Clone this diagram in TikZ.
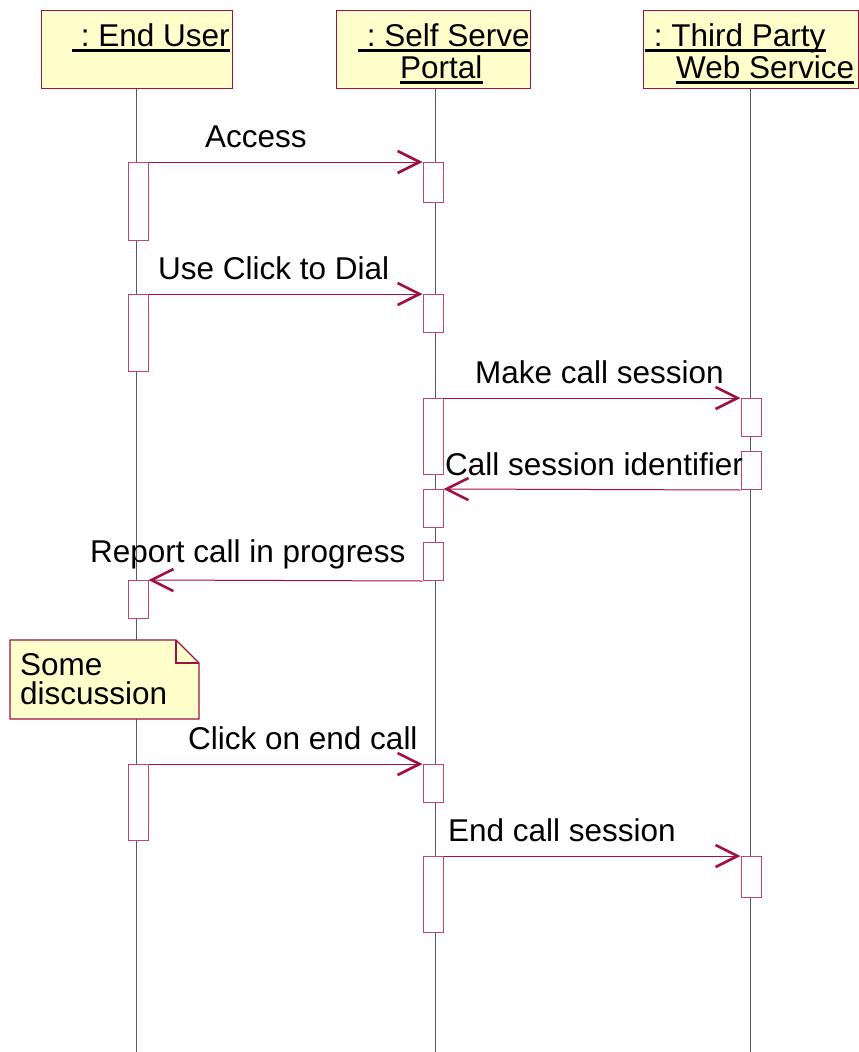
\documentclass[tikz,border=0pt]{standalone}
\usepackage{fontspec}
\setmainfont{Liberation Sans}
\usepackage[usenames]{xcolor}
\usepackage{tikz}
\usetikzlibrary{arrows.meta,positioning}
\frenchspacing

\definecolor{umlred}{RGB}{160,16,64}
\definecolor{barred}{RGB}{190,70,110}
\definecolor{umlfill}{RGB}{255,255,204}

\begin{document}
\begin{tikzpicture}[x=1pt,y=-1pt,
                    font=\fontsize{31.5}{33}\selectfont]
\tikzstyle{every node}=[]
\tikzstyle{obj}=[draw=umlred,fill=umlfill,line width=1.2pt,inner sep=0pt,
                 anchor=north west,minimum height=78pt]
\tikzstyle{hdr}=[anchor=base west,inner sep=0pt,text depth=4.5pt]
\tikzstyle{uline}=[line width=3pt,black]
\tikzstyle{lifeline}=[black!65,line width=1pt]
\tikzstyle{bar}=[draw=barred,fill=white,line width=1pt,inner sep=0pt,
                 anchor=north,minimum width=20pt]
\tikzstyle{msg}=[-{Straight Barb[length=22pt,width=22pt,line width=2.6pt 0]},
                 umlred,line width=1pt]
\tikzstyle{lbl}=[anchor=base west,inner sep=0pt]

\useasboundingbox (0,0) rectangle (859,1052);

% objects
\node[obj,minimum width=191pt] (EU) at (41,10) {};
\node[obj,minimum width=194pt] (SSP) at (336,10) {};
\node[obj,minimum width=215pt] (TPW) at (643,10) {};

\node[hdr] (EUt) at (72,46) {\ : End User};
\node[hdr] (SSPt) at (358,46) {\ : Self Serve};
\node[hdr] (SSPt2) at (400,78) {Portal};
\node[hdr] (TPWt) at (645,46) {\ : Third Party};
\node[hdr] (TPWt2) at (676,78) {Web Service};
\foreach \t in {EUt,SSPt,SSPt2,TPWt,TPWt2}
  \draw[uline] (\t.south west) -- (\t.south east);

% lifelines
\coordinate (EUend) at (136,1052);
\coordinate (SSPend) at (435,1052);
\coordinate (TPWend) at (750,1052);
\draw[lifeline] (EU.south -| EUend) -- (EUend);
\draw[lifeline] (SSP.south -| SSPend) -- (SSPend);
\draw[lifeline] (TPW.south -| TPWend) -- (TPWend);

% activations
\node[bar,minimum height=78pt] (EU1) at (138,162) {};
\node[bar,minimum height=40pt] (SSP1) at (433,162) {};
\node[bar,minimum height=77pt] (EU2) at (138,294) {};
\node[bar,minimum height=38pt] (SSP2) at (433,294) {};
\node[bar,minimum height=76pt] (SSP3) at (433,398) {};
\node[bar,minimum height=38pt] (TPW1) at (751,398) {};
\node[bar,minimum height=38pt] (TPW2) at (751,451) {};
\node[bar,minimum height=38pt] (SSP4) at (433,489) {};
\node[bar,minimum height=38pt] (SSP5) at (433,542) {};
\node[bar,minimum height=38pt] (EU3) at (138,580) {};
\node[bar,minimum height=76pt] (EU4) at (138,764) {};
\node[bar,minimum height=38pt] (SSP6) at (433,764) {};
\node[bar,minimum height=76pt] (SSP7) at (433,856) {};
\node[bar,minimum height=41pt] (TPW3) at (751,856) {};

% messages
\draw[msg] (EU1.north east) -- (SSP1.north west);
\draw[msg] (EU2.north east) -- (SSP2.north west);
\draw[msg] (SSP3.north east) -- (TPW1.north west);
\draw[msg] (TPW2.south west) -- (SSP4.north east);
\draw[msg] (SSP5.south west) -- (EU3.north east);
\draw[msg] (EU4.north east) -- (SSP6.north west);
\draw[msg] (SSP7.north east) -- (TPW3.north west);

\node[lbl] (mAccess) at (205,147) {Access};
\node[lbl] (mDial) at (158,279) {Use Click to Dial};
\node[lbl] (mMake) at (475,383) {Make call session};
\node[lbl] (mIdent) at (445,475) {Call session identifier};
\node[lbl] (mReport) at (90,562) {Report call in progress};
\node[lbl] (mClick) at (188,749) {Click on end call};
\node[lbl] (mEnd) at (448,841) {End call session};

% note
\draw[draw=umlred,fill=umlfill,line width=1.2pt]
  (10,640) -- (176,640) -- (199,663) -- (199,719) -- (10,719) -- cycle;
\draw[umlred,line width=1.2pt] (176,640) -- (176,663) -- (199,663);
\node[lbl] (note1) at (20,675) {Some};
\node[lbl] (note2) at (20,704) {discussion};
\end{tikzpicture}
\end{document}
